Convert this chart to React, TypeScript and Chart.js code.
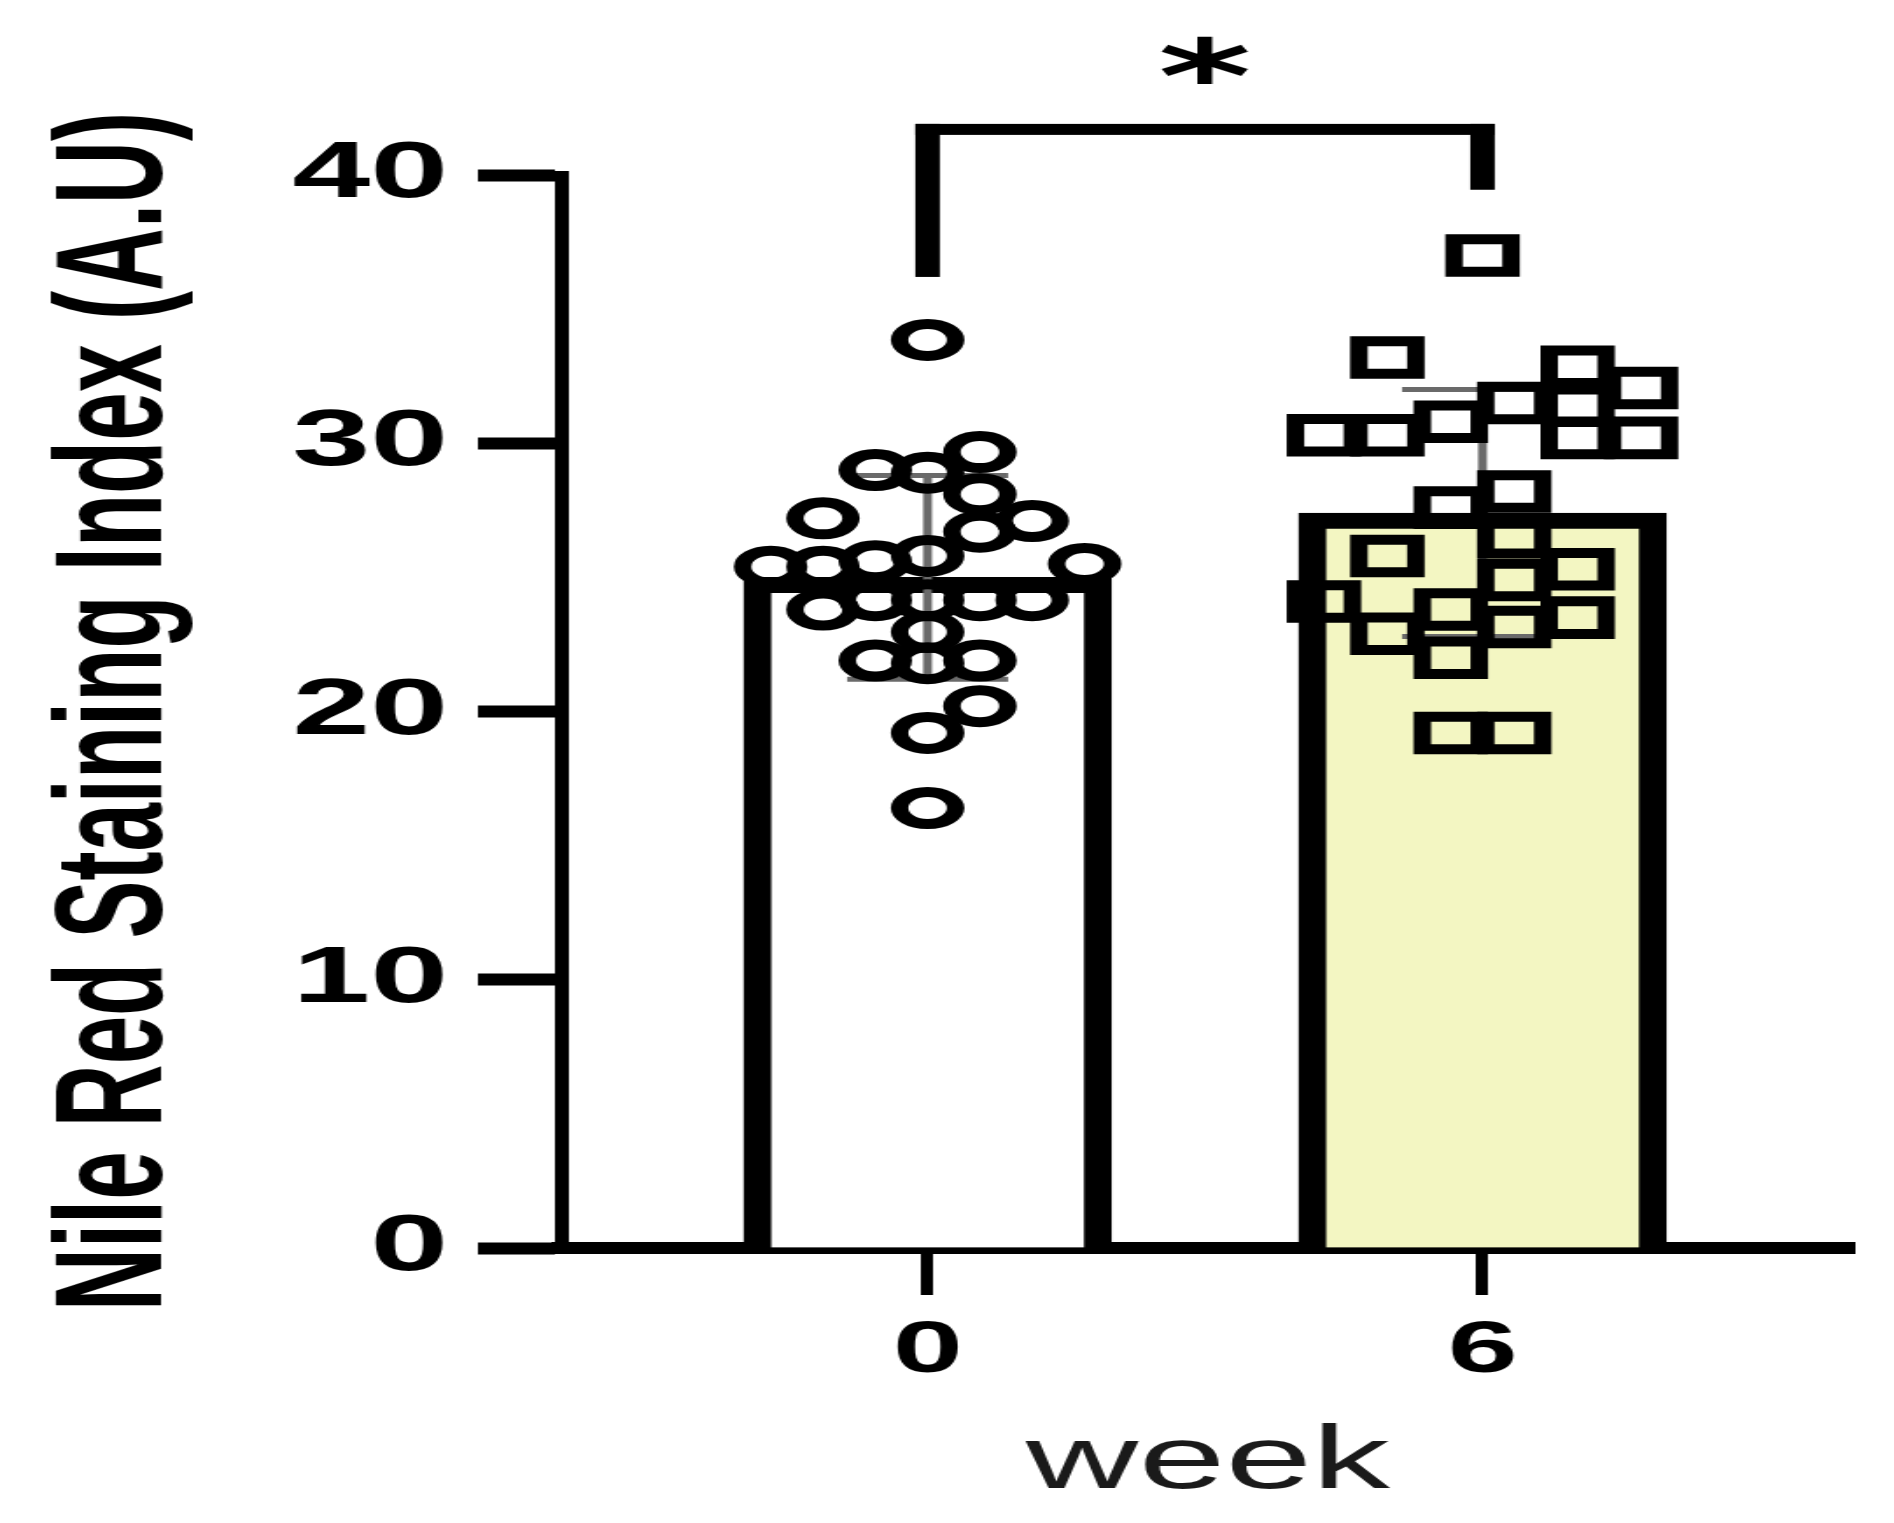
import { useEffect, useRef } from 'react';
import { Chart, registerables } from 'chart.js';

Chart.register(...registerables);

// ---------------- data ----------------
const weekLabels = ['0', '6'];
const groupMeans = [25.0, 27.4];
const groupSDs = [3.8, 4.6];

const week0Values = [
  33.85, 29.67, 29.0, 28.9, 28.1, 27.2, 27.1, 26.7, 25.4, 25.4, 25.6, 25.8, 25.5,
  24.15, 24.15, 24.15, 24.15, 23.8, 22.96, 21.9, 21.8, 21.9, 20.2, 19.2, 16.4,
];
const week0Slots = [0, 1, -1, 0, 1, -2, 2, 1, -3, -2, -1, 0, 3, -1, 0, 1, 2, -2, 0, -1, 0, 1, 1, 0, 0];

const week6Values = [
  37.0, 33.2, 32.85, 32.06, 31.5, 31.4, 30.8, 30.3, 30.3, 30.2, 30.2, 28.2, 27.6,
  26.5, 25.8, 25.3, 24.9, 24.1, 23.8, 23.5, 23.15, 22.9, 22.0, 19.2, 19.2,
];
const week6Slots = [
  0, -1.5, 1.5, 2.5, 0.5, 1.5, -0.5, -2.5, -1.5, 1.5, 2.5, 0.5, -0.5,
  0.5, -1.5, 1.5, 0.5, -2.5, -0.5, 1.5, 0.5, -1.5, -0.5, -0.5, 0.5,
];

const yMin = 0;
const yMax = 40;
const yStep = 10;
const yAxisTitle = 'Nile Red Staining Index (A.U)';
const xAxisTitle = 'week';
const significanceText = '*';
const bracketLevel = 41.7;
const bracketLegEnds = [36.2, 39.45];
const starLevel = 44.3;

// ---------------- layout constants ----------------
const CANVAS_W = 1082;
const CANVAS_H = 1523;
const X_MIN = -0.659;
const X_MAX = 1.669;
const swarmStep = [0.0943, 0.1143];
const errorCapHalf = 0.145;

const annotationPlugin = {
  id: 'nileAnnotations',
  afterDatasetDraw(chart: any, args: any) {
    if (args.index !== 0) return;
    const { ctx } = chart;
    const x = chart.scales.x;
    const y = chart.scales.y;
    ctx.save();
    ctx.strokeStyle = '#6a6a6a';
    ctx.lineWidth = 5;
    groupMeans.forEach((m, i) => {
      const cx = x.getPixelForValue(i);
      const yTop = y.getPixelForValue(m + groupSDs[i]);
      const yBot = y.getPixelForValue(m - groupSDs[i]);
      const xl = x.getPixelForValue(i - errorCapHalf);
      const xr = x.getPixelForValue(i + errorCapHalf);
      ctx.beginPath();
      ctx.moveTo(cx, yTop);
      ctx.lineTo(cx, yBot);
      ctx.moveTo(xl, yTop);
      ctx.lineTo(xr, yTop);
      ctx.moveTo(xl, yBot);
      ctx.lineTo(xr, yBot);
      ctx.stroke();
    });
    ctx.restore();
  },
  afterDraw(chart: any) {
    const { ctx } = chart;
    const x = chart.scales.x;
    const y = chart.scales.y;
    const x0 = x.getPixelForValue(0);
    const x1 = x.getPixelForValue(1);
    const yb = y.getPixelForValue(bracketLevel);
    const hThick = 11;
    const vThick = 14;
    ctx.save();
    ctx.fillStyle = '#000';
    ctx.fillRect(x0 - vThick / 2, yb - hThick / 2, x1 - x0 + vThick, hThick);
    const yl = y.getPixelForValue(bracketLegEnds[0]);
    const yr = y.getPixelForValue(bracketLegEnds[1]);
    ctx.fillRect(x0 - vThick / 2, yb - hThick / 2, vThick, yl - yb + hThick / 2);
    ctx.fillRect(x1 - vThick / 2, yb - hThick / 2, vThick, yr - yb + hThick / 2);
    // significance star
    const ys = y.getPixelForValue(starLevel);
    const xm = (x0 + x1) / 2;
    ctx.font = 'bold 100px "DejaVu Sans", "Liberation Sans", sans-serif';
    let m = ctx.measureText(significanceText);
    const h = m.actualBoundingBoxAscent + m.actualBoundingBoxDescent;
    const size = h > 0 ? (100 * 48) / h : 140;
    ctx.font = `bold ${size}px "DejaVu Sans", "Liberation Sans", sans-serif`;
    m = ctx.measureText(significanceText);
    const asc = m.actualBoundingBoxAscent;
    const desc = m.actualBoundingBoxDescent;
    const left = m.actualBoundingBoxLeft;
    const right = m.actualBoundingBoxRight;
    ctx.textBaseline = 'alphabetic';
    ctx.textAlign = 'left';
    const baseY = ys + (asc - desc) / 2;
    const startX = xm - (right - left) / 2;
    ctx.fillText(significanceText, startX, baseY);
    ctx.restore();
  },
};

export default function App() {
  const ref = useRef<HTMLCanvasElement>(null);

  useEffect(() => {
    const canvas = ref.current;
    if (!canvas) return;
    Chart.defaults.font.family = '"Liberation Sans", Arial, sans-serif';
    Chart.defaults.color = '#000';

    const chart = new Chart(canvas, {
      type: 'scatter',
      data: {
        datasets: [
          {
            type: 'bar',
            data: groupMeans.map((m, i) => ({ x: i, y: m })),
            backgroundColor: ['#ffffff', '#F3F6C2'],
            borderColor: '#000',
            borderWidth: 16,
            barThickness: 210,
            grouped: false,
            order: 2,
          } as any,
          {
            type: 'scatter',
            data: week0Values.map((v, k) => ({ x: 0 + week0Slots[k] * swarmStep[0], y: v })),
            pointStyle: 'circle',
            pointRadius: 16,
            pointBorderWidth: 10,
            pointBorderColor: '#000',
            pointBackgroundColor: 'rgba(0,0,0,0)',
            clip: false,
            order: 1,
          } as any,
          {
            type: 'scatter',
            data: week6Values.map((v, k) => ({ x: 1 + week6Slots[k] * swarmStep[1], y: v })),
            pointStyle: 'rect',
            pointRadius: 23,
            pointBorderWidth: 10,
            pointBorderColor: '#000',
            pointBackgroundColor: 'rgba(0,0,0,0)',
            clip: false,
            order: 1,
          } as any,
        ],
      },
      options: {
        responsive: false,
        maintainAspectRatio: false,
        animation: false,
        devicePixelRatio: 1,
        events: [],
        layout: { autoPadding: false, padding: { left: 0, top: 175, right: CANVAS_W - 1059, bottom: 0 } },
        plugins: {
          legend: { display: false },
          tooltip: { enabled: false },
        },
        scales: {
          x: {
            type: 'linear',
            min: X_MIN,
            max: X_MAX,
            offset: false,
            afterBuildTicks: (scale: any) => {
              scale.ticks = weekLabels.map((_, i) => ({ value: i }));
            },
            afterFit: (scale: any) => {
              scale.height = CANVAS_H - 1248;
              scale.paddingLeft = 0;
              scale.paddingRight = 0;
            },
            ticks: {
              autoSkip: false,
              maxRotation: 0,
              padding: 14,
              color: '#000',
              font: { size: 72, weight: 'bold' },
              callback: (v: any) => weekLabels[Math.round(Number(v))] ?? '',
            },
            grid: {
              display: true,
              drawOnChartArea: false,
              drawTicks: true,
              offset: false,
              tickLength: 47,
              tickWidth: 7,
              tickColor: '#000',
              color: '#000',
            },
            border: { display: true, width: 12, color: '#000' },
            title: {
              display: true,
              text: xAxisTitle,
              color: '#1a1a1a',
              font: { size: 89, weight: 'normal', lineHeight: 1 },
              padding: { top: 0, bottom: 15 },
            },
          },
          y: {
            type: 'linear',
            min: yMin,
            max: yMax,
            afterFit: (scale: any) => {
              scale.width = 321;
              scale.paddingTop = 0;
              scale.paddingBottom = 0;
            },
            ticks: {
              stepSize: yStep,
              padding: 17,
              color: '#000',
              font: { size: 80, weight: 'bold' },
            },
            grid: {
              display: true,
              drawOnChartArea: false,
              drawTicks: true,
              tickLength: 48,
              tickWidth: 12,
              tickColor: '#000',
              color: '#000',
            },
            border: { display: true, width: 8, color: '#000' },
            title: {
              display: true,
              text: yAxisTitle,
              color: '#000',
              font: { size: 87, weight: 'bold', lineHeight: 1 },
              padding: { top: 25, bottom: 0 },
            },
          },
        },
      },
      plugins: [annotationPlugin],
    } as any);

    return () => chart.destroy();
  }, []);

  return (
    <canvas
      ref={ref}
      width={CANVAS_W}
      height={CANVAS_H}
      style={{ position: 'absolute', left: 0, top: 0, width: '1894px', height: '1523px' }}
    />
  );
}
